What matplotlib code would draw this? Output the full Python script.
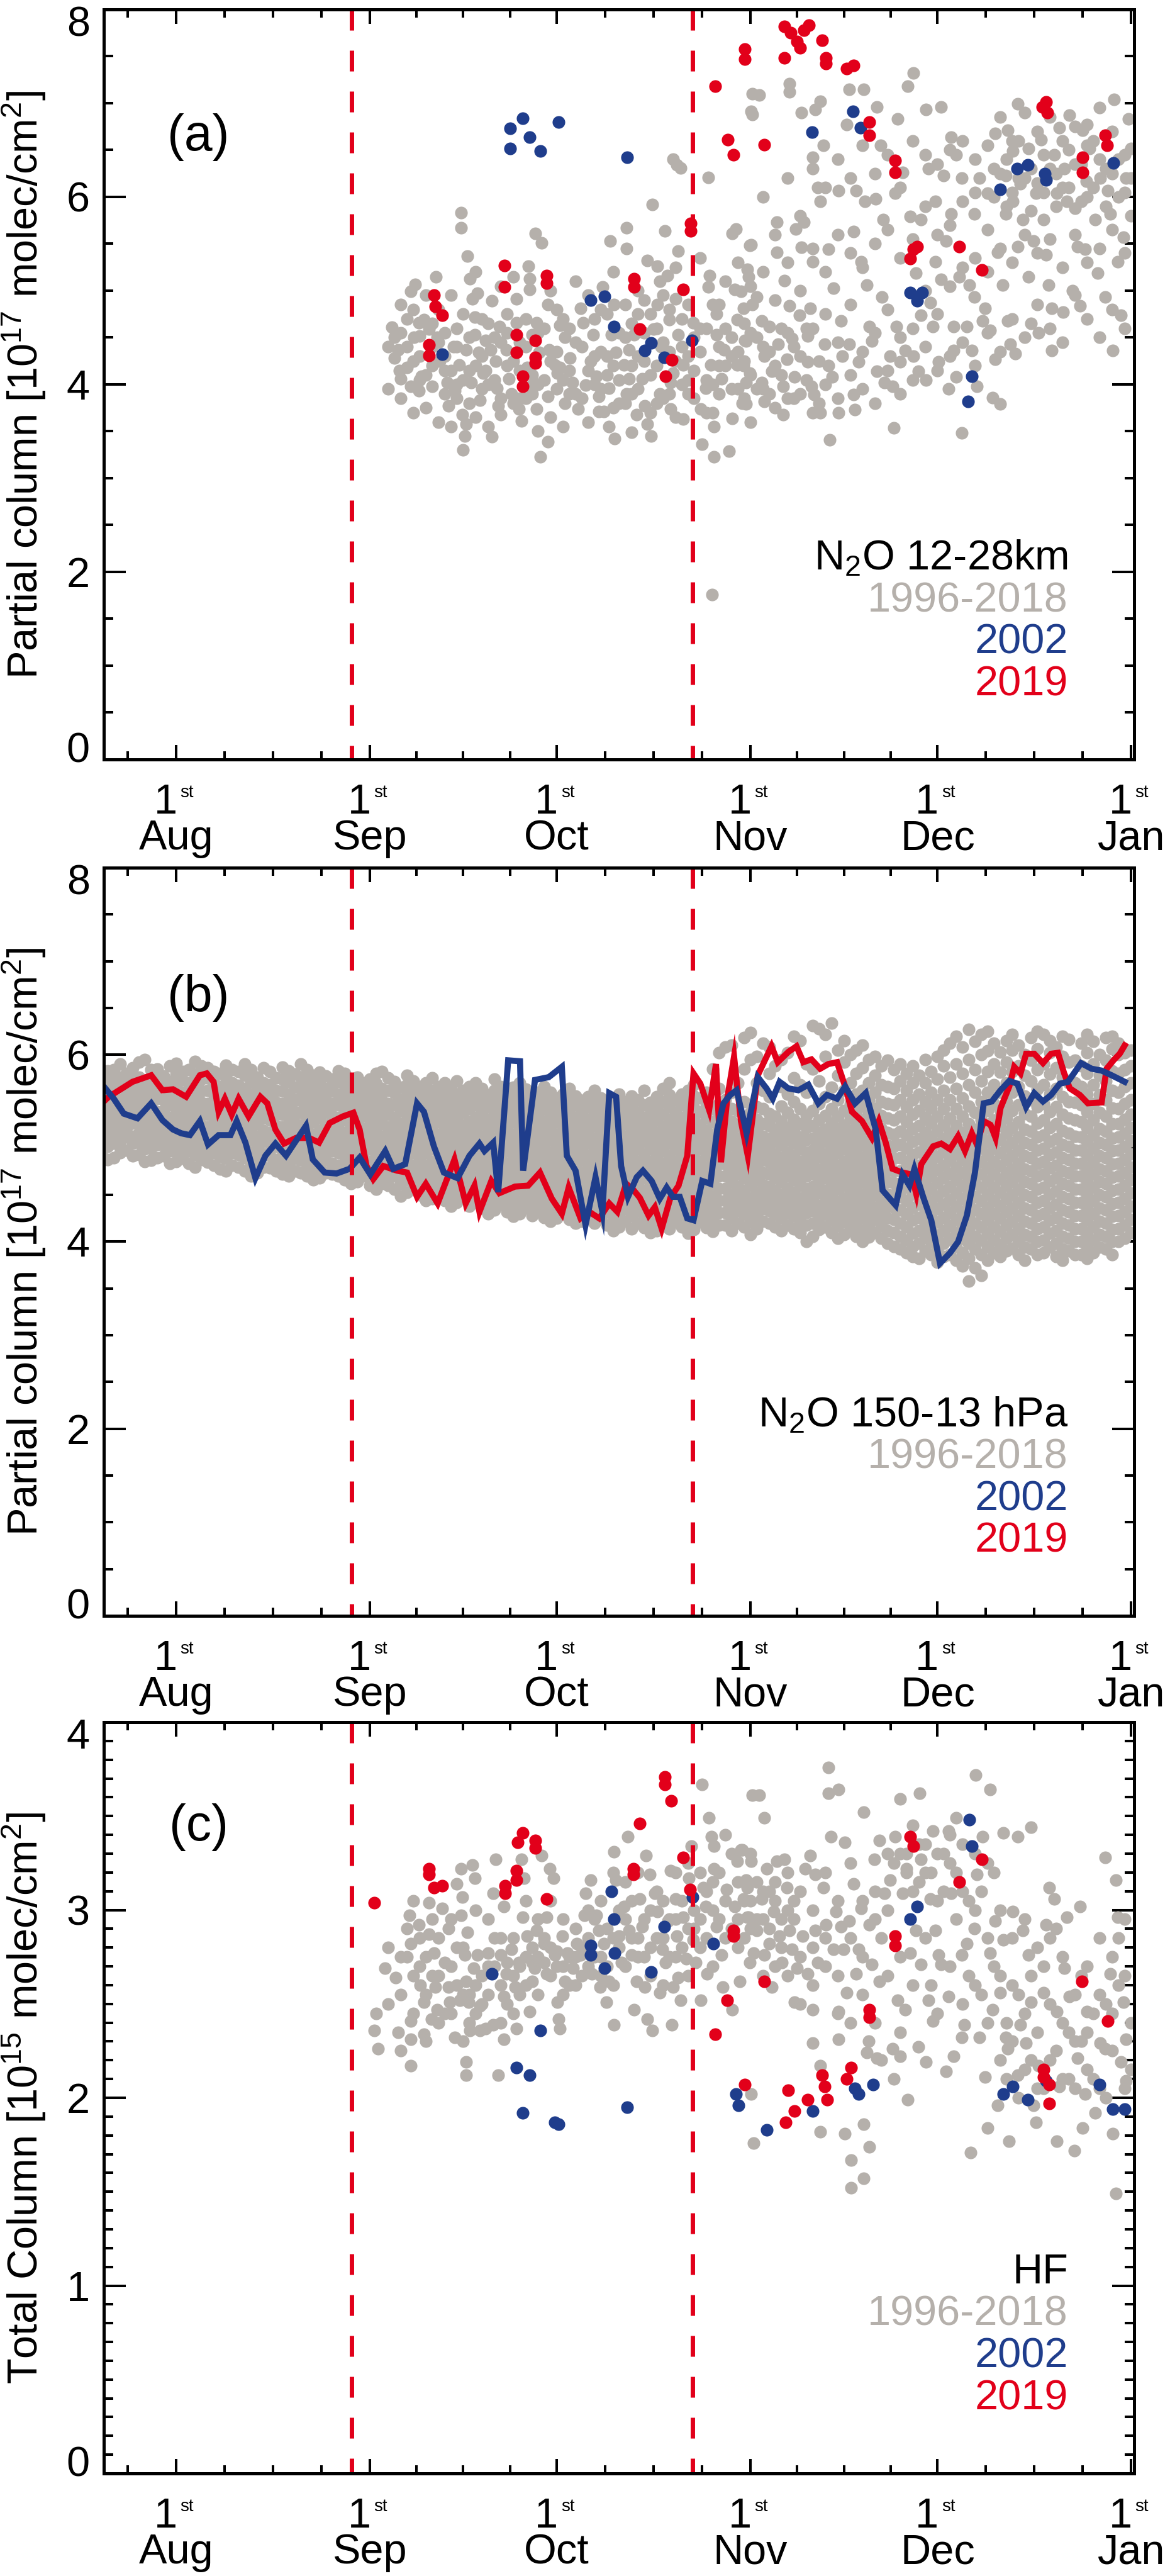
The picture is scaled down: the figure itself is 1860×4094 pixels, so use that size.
import matplotlib
matplotlib.use('Agg')
import matplotlib.pyplot as plt
import matplotlib.transforms as mtransforms
from matplotlib.ticker import FixedLocator, MultipleLocator

plt.rcParams['font.family'] = ['Liberation Sans', 'DejaVu Sans']
plt.rcParams['mathtext.fontset'] = 'custom'
plt.rcParams['mathtext.rm'] = 'Liberation Sans'
plt.rcParams['mathtext.it'] = 'Liberation Sans:italic'
plt.rcParams['mathtext.bf'] = 'Liberation Sans:bold'
plt.rcParams['lines.scale_dashes'] = False

# ---------------- axis definitions (x = days since 1 August) ----------------
month_ticks = [0, 31, 61, 92, 122, 153]
month_names = ['Aug', 'Sep', 'Oct', 'Nov', 'Dec', 'Jan']
minor_ticks = [-7.75, 7.75, 15.5, 23.25, 38.5, 46, 53.5, 68.75, 76.5, 84.25,
               99.5, 107, 114.5, 129.75, 137.5, 145.25]
vortex_lines = [28.1, 82.7]
XMIN, XMAX = -11.6, 153.5

GREY = '#b5b0ab'
BLUE = '#1f3d8c'
RED = '#e2001a'

# ---------------- panel (a): N2O 12-28 km ----------------
grey_a = [(34.6,4.61),(35.6,4.37),(35.8,4.15),(36.0,4.06),(37.6,4.99),(38.3,5.07),(37.6,3.98),(38.9,3.93),
(39.3,4.09),(38.1,4.50),(38.9,4.66),(39.7,4.69),(40.5,4.59),(41.6,5.15),(41.8,4.50),(42.2,4.25),(43.0,4.15),
(43.4,4.02),(43.6,3.77),(44.4,4.40),(44.6,3.93),(45.0,3.85),(45.4,4.21),(45.7,5.83),(45.7,5.67),(45.9,3.68),
(46.5,3.58),(46.7,5.37),(46.3,3.45),(47.1,5.13),(47.5,4.91),(46.5,4.37),(47.3,4.02),(48.3,4.97),(47.9,4.72),
(47.9,4.53),(48.5,4.34),(49.2,4.12),(48.7,3.83),(49.6,4.47),(50.6,4.89),(50.6,3.44),(51.2,4.25),(51.4,3.96),
(51.6,3.77),(52.0,3.68),(51.8,4.62),(50.4,4.37),(49.6,4.15),(52.9,4.37),(53.3,4.06),(53.7,3.90),(54.5,4.91),
(54.5,4.66),(54.9,3.74),(55.3,3.61),(56.4,5.26),(56.6,5.13),(56.6,5.01),(57.0,4.53),(57.0,3.99),(57.8,3.74),
(57.6,5.61),(58.6,5.51),(57.8,4.66),(58.2,4.34),(56.2,4.18),(59.6,4.85),(59.6,3.87),(59.6,3.39),(58.4,3.23),
(59.8,4.37),(60.7,4.21),(61.5,4.63),(61.1,4.12),(62.3,3.80),(62.3,4.50),(63.1,4.28),(63.5,4.02),(64.4,3.74),
(61.5,4.18),(64.8,4.81),(65.2,4.66),(65.6,3.99),(66.4,4.25),(66.8,4.53),(67.3,4.09),(67.7,3.87),(68.3,5.04),
(68.5,3.71),(69.3,3.96),(69.5,5.53),(69.3,3.55),(70.1,4.85),(70.5,4.34),(69.7,4.53),(70.3,3.42),(67.7,3.71),
(72.2,5.67),(72.2,5.45),(71.8,4.21),(72.2,3.90),(72.6,4.37),(73.0,3.49),(73.4,4.53),(73.8,3.68),(74.0,4.75),
(74.7,4.06),(75.1,3.77),(75.5,5.32),(76.1,3.45),(76.3,5.92),(75.5,3.58),(72.6,4.06),(76.5,4.59),(77.1,5.26),
(77.1,4.85),(77.5,3.90),(77.5,5.10),(77.7,4.40),(78.3,5.64),(78.7,5.16),(79.0,4.69),(79.2,3.74),(79.6,4.12),
(79.6,6.40),(80.2,6.34),(80.4,5.42),(80.8,6.31),(80.4,4.53),(81.2,3.63),(81.2,4.21),(80.0,4.91),(79.2,4.02),
(82.0,4.85),(82.9,4.66),(84.1,3.74),(84.3,3.36),(84.9,3.96),(85.3,6.21),(85.3,5.04),(85.5,5.16),(85.7,4.21),
(86.2,3.55),(86.2,3.23),(86.6,4.53),(87.0,3.90),(87.4,4.06),(87.8,4.37),(88.6,3.29),(89.1,5.61),(89.5,5.01),
(89.9,4.69),(89.9,4.21),(90.7,3.80),(91.1,4.47),(91.5,5.23),(91.9,5.48),(91.9,4.12),(92.1,6.91),(92.3,4.85),
(92.3,7.10),(89.1,3.64),(86.6,4.75),(85.9,1.76),
(92.3,6.88),(93.4,7.09),(89.7,5.66),(90.5,4.99),(91.7,5.15),(92.1,5.49),(90.9,4.81),(91.3,4.46),(90.9,4.20),
(91.3,4.02),(91.3,3.79),(93.0,4.93),(93.8,4.68),(94.2,4.30),(93.8,4.02),(94.2,3.82),(95.0,4.62),(95.4,4.14),
(96.3,5.73),(96.3,5.41),(96.5,4.43),(97.3,3.68),(97.3,3.98),(97.5,5.11),(97.9,4.27),(98.3,7.21),(98.3,7.12),
(98.3,4.84),(98.7,4.49),(99.1,4.08),(99.3,5.66),(99.9,4.74),(100.2,6.90),(100.2,5.46),(100.6,5.73),(101.2,4.52),
(101.2,4.24),(101.6,4.81),(101.8,3.98),(102.0,6.42),(102.0,5.31),(102.4,6.93),(102.2,3.89),(102.8,6.10),
(103.2,7.02),(103.2,5.95),(103.2,3.70),(103.7,6.55),(103.9,4.43),(104.5,5.44),(104.5,4.20),(104.7,3.41),
(105.1,4.08),(105.3,5.03),(106.1,6.07),(106.1,3.70),(106.5,4.68),(106.7,4.30),(107.4,6.77),(107.8,7.15),
(107.8,4.43),(108.6,5.63),(108.6,3.89),(108.8,3.73),(109.0,6.07),(109.4,4.24),(109.8,5.31),(110.2,7.15),
(110.4,5.95),(110.7,5.06),(111.1,4.62),(111.5,4.46),(112.1,5.98),(112.3,6.96),(112.3,4.14),(112.9,6.55),
(113.1,4.93),(113.3,5.76),(113.5,4.02),(114.4,4.30),(114.8,3.98),(115.0,3.54),(115.2,6.04),(115.4,4.62),
(115.6,6.83),(116.0,4.24),(116.4,6.26),(116.8,4.36),(117.2,7.18),(117.6,5.79),(118.1,7.32),(118.1,4.30),
(118.5,5.19),(118.9,4.14),(119.3,5.76),(119.3,4.74),(120.1,6.93),(120.1,4.05),(120.5,6.30),(120.9,4.87),
(121.3,4.62),(121.7,5.95),(121.7,5.31),(122.2,4.24),(122.6,6.96),(122.6,5.12),(123.0,6.23),(123.4,5.53),
(123.8,3.95),(124.2,6.64),(124.2,5.82),(124.6,4.62),(124.6,4.36),(125.0,6.45),(125.0,4.08),(125.5,5.15),
(125.9,3.48),(125.9,6.20),(126.7,4.62),(127.1,5.06),(127.5,4.36),(127.9,5.82),(127.9,4.93),(128.3,3.98),
(128.7,6.20),(129.2,4.68),(129.6,4.81),(130.0,6.04),(130.4,4.58),(130.8,3.86),(131.2,6.68),(131.2,4.27),
(131.6,5.41),(132.0,3.79),(132.4,5.06),(132.9,6.23),(132.9,5.82),(133.3,6.71),(133.3,4.68),(133.7,4.43),
(134.1,6.49),(134.1,5.95),(134.5,4.33),(134.9,6.99),(134.9,5.47),(135.3,6.14),(135.7,5.76),(136.6,6.52),
(136.6,5.15),(137.0,4.65),(137.4,5.53),(137.8,6.04),(138.2,4.55),(138.6,6.61),(139.0,5.76),(139.4,5.38),
(139.8,5.06),(140.3,4.81),(140.3,4.36),(140.7,6.45),(141.1,6.04),(141.5,6.74),(142.1,4.77),(142.3,6.30),
(142.7,5.95),(143.1,6.87),(143.6,5.00),(144.0,5.88),(144.4,5.47),(144.8,4.84),(145.2,6.71),(145.6,5.44),
(145.8,6.17),(146.0,6.77),(146.4,6.52),(147.3,5.76),(147.7,5.19),(148.1,6.20),(148.9,4.93),(149.3,6.07),
(149.7,5.82),(150.1,4.36),(150.3,7.04),(150.9,5.31),(151.4,4.74),(151.8,5.57),(152.2,6.20),(152.6,6.83),
(153.0,6.52)]
grey_a_core_days = [35, 37, 39, 41, 43, 45, 47, 49, 51, 53, 55, 57, 59, 61, 63, 65, 67, 69, 71, 73,
                    75, 77, 79, 81, 83, 85, 87, 89, 91, 93, 95, 97, 99, 101, 103,
                    131, 133, 135, 137, 139, 141, 143, 145, 147, 149, 151, 153]
grey_a_core_vals = [[4.28,4.50],[4.18,4.40,4.70],[4.05,4.30,4.52],[3.98,4.20,4.40,4.65],[3.90,4.30,4.55],
    [4.00,4.40,4.60],[3.80,4.15,4.50],[3.95,4.30,4.70],[4.05,4.50],[4.20,4.55,4.75],[3.85,4.15,4.45],
    [3.90,4.10],[4.05,4.60],[3.95,4.35,4.80],[3.90,4.15,4.60],[3.85,4.40],[4.00,4.30,4.70],
    [4.10,4.30,4.75],[3.80,4.05,4.55],[3.90,4.20,4.65],[4.25,4.55,4.90],[3.80,4.20,4.60],
    [3.90,4.35,4.80],[4.00,4.40,4.70],[3.85,4.15,4.50],[3.70,4.05,4.60],[4.20,4.40,4.85],
    [3.95,4.30,4.50],[3.85,4.25,4.65],[3.95,4.50],[3.90,4.35],[4.10,4.60],[3.85,4.40],[4.05,4.60],
    [3.80,4.25],
    [6.00,6.30],[5.90,6.40],[6.20,6.60],[5.85,6.30],[6.05,6.45],[5.90,6.25],[6.10,6.50],[5.95,6.35],
    [6.10,6.60],[5.90,6.30],[6.00,6.40],[5.80,6.20]]
grey_a_extra_days = [34, 36, 38, 40, 42, 44, 46, 48, 50, 52, 54, 56, 58, 60, 62, 64, 66, 68, 70, 72, 74,
                     76, 78, 80, 82, 84, 86, 88, 90, 92, 94, 96, 98, 100, 102, 104, 106, 108, 110, 112,
                     114, 116, 118, 120, 122, 124, 126, 128, 130, 132, 134, 136, 138, 140, 142, 144, 146,
                     148, 150, 152]
grey_a_extra_vals = [[4.40,3.95],[4.55,3.85,4.85],[4.25,3.70,4.80],[4.10,3.75,4.95],[4.45,3.60,4.80],
    [4.15,3.55,4.95],[4.05,4.75,3.30],[4.20,3.65,5.20],[4.00,4.65,3.55],[4.45,3.85,5.05],[4.25,3.80,5.15],
    [4.40,3.85,4.70],[4.00,4.55,3.50],[4.25,3.65,5.00],[4.05,4.70,3.55],[4.45,3.90,5.10],[4.15,3.60,4.95],
    [4.35,3.95,4.80],[4.20,3.75,5.20],[4.50,3.80,4.85],[4.30,3.95,5.00],[4.10,3.70,4.75],[4.45,3.85,4.95],
    [4.25,3.65,5.25],[4.05,4.30,3.90],[4.35,4.60,5.35],[4.00,4.85,3.70],[4.20,4.60,5.10],[4.35,3.95,5.30],
    [4.10,4.55,5.05,3.60],[4.40,3.95,5.20,6.00],[4.20,3.75,4.90,5.60],[4.55,3.85,5.30,6.20],
    [4.30,3.90,5.00,5.80],[4.60,3.70,5.45,6.30],[4.00,4.75,5.20,6.10],[4.45,3.85,5.60,6.40],
    [4.10,4.85,5.40,6.20],[4.35,3.95,5.25,6.55],[4.55,3.80,5.50,6.25],[4.15,4.80,5.65,6.45],
    [4.50,3.90,5.35,6.10],[4.05,4.60,5.55,6.60],[4.40,5.00,5.90,6.45],[4.15,4.75,5.60,6.35],
    [4.30,5.05,5.70,6.50],[4.45,5.25,5.95,6.60],[4.20,5.35,6.05,6.40],[4.55,5.20,5.65,6.55],
    [4.35,5.45,6.25,6.85],[4.70,5.30,6.05,6.60],[4.50,5.60,6.20,6.90],[4.85,5.40,6.15,6.70],
    [4.60,5.55,6.30,6.85],[4.45,5.25,6.10,6.60],[4.95,5.60,6.35,6.75],[4.70,5.30,6.00,6.55],
    [4.50,5.45,6.40,6.95],[4.80,5.65,6.25,6.70],[4.60,5.40,6.05,6.45]]
blue_a = [(53.5,6.73),(55.5,6.84),(56.6,6.64),(53.5,6.52),(58.4,6.49),(61.3,6.80),(72.3,6.42),(66.4,4.90),
(68.6,4.94),(70.1,4.62),(76.1,4.44),(75.1,4.36),(78.2,4.29),(82.6,4.47),(42.6,4.32),(108.5,6.91),(101.9,6.69),
(109.7,6.74),(132.0,6.08),(134.8,6.30),(136.5,6.34),(139.2,6.25),(139.4,6.18),(150.2,6.36),(117.6,4.98),
(119.5,4.98),(118.7,4.89),(127.5,4.09),(126.9,3.82)]
red_a = [(41.3,4.95),(41.5,4.83),(42.6,4.74),(40.5,4.42),(40.5,4.31),(52.6,5.27),(52.6,5.04),(59.4,5.16),
(59.4,5.08),(54.5,4.53),(54.5,4.34),(55.5,4.09),(55.5,3.98),(57.5,4.47),(57.5,4.29),(57.5,4.23),(73.4,5.13),
(73.4,5.04),(74.3,4.59),(81.2,5.01),(79.4,4.26),(78.4,4.09),(82.4,5.64),(82.4,5.72),(86.4,7.18),(88.4,6.61),
(89.3,6.45),(91.1,7.58),(91.1,7.47),(94.2,6.56),(97.5,7.48),(97.5,7.82),(98.5,7.75),(99.5,7.66),(100.6,7.78),
(101.4,7.83),(100.0,7.59),(103.5,7.67),(104.1,7.48),(104.1,7.42),(107.4,7.37),(108.6,7.40),(111.1,6.80),
(111.1,6.66),(115.2,6.39),(115.2,6.26),(117.6,5.34),(118.1,5.44),(118.7,5.47),(125.5,5.47),(129.1,5.22),
(138.8,6.96),(139.4,7.01),(139.6,6.90),(145.2,6.42),(145.2,6.26),(148.9,6.66),(149.2,6.55)]

# ---------------- panel (b): N2O 150-13 hPa ----------------
grey_b_days = [-11, -9, -7, -5, -3, -1, 1, 3, 5, 7, 9, 11, 13, 15, 17, 19, 21, 23, 25, 27, 29, 31, 33, 35,
               37, 39, 41, 43, 45, 47, 49, 51, 53, 55, 57, 59, 61, 63, 65, 67, 69, 71, 73, 75, 77, 79, 81,
               83, 85, 87, 89, 91, 93, 95, 97, 99, 101, 103, 105, 107, 109, 111, 113, 115, 117, 119, 121,
               123, 125, 127, 129, 131, 133, 135, 137, 139, 141, 143, 145, 147, 149, 151, 153]
grey_b_vals = [
 [4.88,5.02,5.15,5.24,5.36,5.47,5.58,5.70,5.83],
 [4.95,5.08,5.19,5.31,5.40,5.52,5.66,5.76,5.90],
 [4.92,5.05,5.13,5.27,5.38,5.50,5.61,5.74,5.86],
 [4.86,4.99,5.10,5.22,5.35,5.44,5.57,5.69,5.95],
 [4.90,5.04,5.16,5.28,5.39,5.53,5.64,5.77,5.85],
 [4.84,4.97,5.09,5.21,5.33,5.46,5.58,5.71,5.88],
 [4.89,5.01,5.14,5.25,5.37,5.49,5.60,5.73,5.82],
 [4.80,4.93,5.06,5.19,5.31,5.42,5.55,5.68,5.79,5.93],
 [4.85,4.98,5.11,5.23,5.36,5.48,5.62,5.75,5.86],
 [4.78,4.91,5.04,5.17,5.29,5.41,5.54,5.66,5.80],
 [4.82,4.95,5.08,5.20,5.32,5.45,5.57,5.70,5.84],
 [4.76,4.90,5.02,5.15,5.27,5.40,5.52,5.64,5.78,5.90],
 [4.74,4.88,5.00,5.13,5.26,5.38,5.50,5.63,5.76],
 [4.79,4.92,5.05,5.17,5.30,5.42,5.55,5.68,5.82],
 [4.72,4.85,4.98,5.10,5.23,5.36,5.48,5.61,5.74,5.87],
 [4.76,4.89,5.01,5.14,5.27,5.39,5.52,5.65,5.79],
 [4.70,4.83,4.96,5.09,5.21,5.34,5.47,5.60,5.72,5.84],
 [4.68,4.81,4.94,5.06,5.19,5.32,5.44,5.57,5.70,5.81],
 [4.72,4.84,4.97,5.10,5.22,5.35,5.48,5.61,5.74],
 [4.66,4.79,4.92,5.04,5.17,5.30,5.42,5.55,5.68,5.80],
 [4.64,4.77,4.90,5.02,5.15,5.28,5.41,5.53,5.66,5.76],
 [4.60,4.73,4.86,4.99,5.12,5.24,5.37,5.50,5.62,5.74],
 [4.62,4.75,4.88,5.00,5.13,5.26,5.38,5.51,5.64,5.82],
 [4.56,4.70,4.83,4.95,5.08,5.21,5.33,5.46,5.59,5.71],
 [4.53,4.66,4.79,4.92,5.05,5.18,5.30,5.43,5.56,5.68,5.78],
 [4.50,4.63,4.76,4.89,5.02,5.14,5.27,5.40,5.53,5.66],
 [4.46,4.60,4.73,4.86,4.99,5.11,5.24,5.37,5.50,5.62,5.75],
 [4.44,4.57,4.70,4.83,4.96,5.09,5.21,5.34,5.47,5.60,5.70],
 [4.42,4.55,4.68,4.81,4.94,5.06,5.19,5.32,5.45,5.58,5.72],
 [4.38,4.52,4.65,4.78,4.90,5.03,5.16,5.29,5.42,5.55,5.66],
 [4.36,4.49,4.62,4.75,4.88,5.01,5.13,5.26,5.39,5.52,5.64],
 [4.34,4.47,4.60,4.73,4.86,4.98,5.11,5.24,5.37,5.50,5.62,5.74],
 [4.32,4.45,4.58,4.71,4.84,4.97,5.09,5.22,5.35,5.48,5.61],
 [4.30,4.43,4.56,4.69,4.82,4.95,5.08,5.20,5.33,5.46,5.59,5.70],
 [4.28,4.41,4.54,4.67,4.80,4.93,5.05,5.18,5.31,5.44,5.57],
 [4.26,4.39,4.52,4.65,4.78,4.91,5.04,5.16,5.29,5.42,5.55,5.66],
 [4.25,4.38,4.51,4.64,4.77,4.90,5.02,5.15,5.28,5.41,5.54],
 [4.24,4.37,4.50,4.63,4.76,4.88,5.01,5.14,5.27,5.40,5.52,5.64],
 [4.22,4.35,4.48,4.61,4.74,4.87,5.00,5.12,5.25,5.38,5.51],
 [4.20,4.34,4.47,4.60,4.73,4.86,4.98,5.11,5.24,5.37,5.50,5.62],
 [4.18,4.32,4.45,4.58,4.71,4.84,4.97,5.10,5.22,5.35,5.48],
 [4.16,4.30,4.43,4.56,4.69,4.82,4.95,5.08,5.21,5.34,5.46,5.58],
 [4.14,4.28,4.41,4.54,4.67,4.80,4.93,5.06,5.19,5.32,5.45,5.56],
 [4.15,4.28,4.42,4.55,4.68,4.81,4.94,5.07,5.20,5.33,5.46,5.62],
 [4.12,4.26,4.39,4.52,4.65,4.78,4.91,5.04,5.17,5.30,5.43,5.55],
 [4.14,4.27,4.40,4.53,4.66,4.79,4.92,5.05,5.18,5.31,5.44,5.57,5.70],
 [4.16,4.29,4.42,4.55,4.68,4.81,4.94,5.07,5.20,5.33,5.46,5.58],
 [4.13,4.26,4.39,4.52,4.65,4.78,4.91,5.04,5.17,5.30,5.43,5.56,5.68],
 [4.15,4.28,4.41,4.54,4.67,4.80,4.93,5.06,5.19,5.32,5.45,5.60],
 [4.18,4.31,4.44,4.57,4.70,4.83,4.96,5.09,5.22,5.35,5.48,5.64,6.02],
 [4.12,4.25,4.38,4.51,4.64,4.77,4.90,5.03,5.16,5.29,5.42,5.60,6.10],
 [4.16,4.29,4.42,4.55,4.68,4.81,4.94,5.07,5.20,5.33,5.50,5.85,6.18],
 [4.14,4.27,4.40,4.53,4.66,4.79,4.92,5.05,5.18,5.31,5.44,5.70,5.98],
 [4.20,4.33,4.46,4.59,4.72,4.85,4.98,5.11,5.24,5.37,5.55,5.80,6.08],
 [4.12,4.25,4.38,4.51,4.64,4.77,4.90,5.03,5.16,5.29,5.45,5.66,5.95],
 [4.14,4.27,4.40,4.53,4.66,4.79,4.92,5.05,5.18,5.31,5.50,5.75,6.20],
 [4.00,4.18,4.31,4.44,4.57,4.70,4.83,4.96,5.09,5.22,5.35,5.60,5.90],
 [4.13,4.26,4.39,4.52,4.65,4.78,4.91,5.04,5.17,5.30,5.48,5.72,6.28],
 [4.10,4.23,4.36,4.49,4.62,4.75,4.88,5.01,5.14,5.27,5.42,5.65,6.34],
 [4.08,4.21,4.34,4.47,4.60,4.73,4.86,4.99,5.12,5.25,5.40,5.62,5.92,6.15],
 [4.06,4.19,4.32,4.45,4.58,4.71,4.84,4.97,5.10,5.23,5.38,5.58,5.80,6.05],
 [4.05,4.18,4.31,4.44,4.57,4.70,4.83,4.96,5.09,5.22,5.36,5.52,5.70,5.95],
 [4.04,4.17,4.30,4.43,4.56,4.69,4.82,4.95,5.08,5.21,5.35,5.50,5.68,5.88],
 [3.95,4.10,4.24,4.37,4.50,4.63,4.76,4.89,5.02,5.15,5.30,5.46,5.64,5.84],
 [3.88,4.02,4.16,4.30,4.44,4.58,4.72,4.86,5.00,5.14,5.28,5.44,5.62,5.80],
 [3.82,3.98,4.12,4.26,4.40,4.54,4.68,4.82,4.96,5.10,5.24,5.40,5.58,5.78],
 [3.86,4.00,4.14,4.28,4.42,4.56,4.70,4.84,4.98,5.12,5.27,5.43,5.60,5.82],
 [3.84,3.98,4.12,4.26,4.40,4.54,4.68,4.82,4.96,5.10,5.25,5.42,5.62,5.88,6.05],
 [3.80,3.95,4.10,4.24,4.38,4.52,4.66,4.80,4.94,5.08,5.24,5.42,5.64,5.90,6.20],
 [3.58,3.82,3.98,4.12,4.26,4.40,4.54,4.68,4.82,4.96,5.10,5.26,5.45,5.68,5.95,6.27],
 [3.64,3.86,4.02,4.16,4.30,4.44,4.58,4.72,4.86,5.00,5.14,5.30,5.50,5.72,6.00,6.22],
 [3.88,4.02,4.16,4.30,4.44,4.58,4.72,4.86,5.00,5.14,5.30,5.48,5.68,5.90,6.12],
 [3.90,4.04,4.18,4.32,4.46,4.60,4.74,4.88,5.02,5.16,5.32,5.50,5.70,5.92,6.15],
 [3.86,4.00,4.14,4.28,4.42,4.56,4.70,4.84,4.98,5.12,5.28,5.46,5.66,5.88,6.10],
 [3.92,4.06,4.20,4.34,4.48,4.62,4.76,4.90,5.04,5.18,5.34,5.52,5.72,5.94,6.18],
 [3.88,4.02,4.16,4.30,4.44,4.58,4.72,4.86,5.00,5.14,5.30,5.48,5.68,5.90,6.22],
 [3.84,3.98,4.12,4.26,4.40,4.54,4.68,4.82,4.96,5.10,5.26,5.44,5.64,5.86,6.08],
 [3.90,4.04,4.18,4.32,4.46,4.60,4.74,4.88,5.02,5.16,5.32,5.50,5.70,5.92,6.16],
 [3.86,4.00,4.14,4.28,4.42,4.56,4.70,4.84,4.98,5.12,5.28,5.46,5.66,5.88,6.12],
 [3.88,4.02,4.16,4.30,4.44,4.58,4.72,4.86,5.00,5.14,5.30,5.48,5.68,5.90,6.14],
 [3.92,4.06,4.20,4.34,4.48,4.62,4.76,4.90,5.04,5.18,5.34,5.52,5.72,5.94,6.18],
 [4.00,4.14,4.28,4.42,4.56,4.70,4.84,4.98,5.12,5.26,5.42,5.60,5.80,6.00,6.12],
 [4.10,4.24,4.38,4.52,4.66,4.80,4.94,5.08,5.22,5.36,5.52,5.70,5.88,6.05]]
grey_b2_days = [-12, -10, -8, -6, -4, -2, 0, 2, 4, 6, 8, 10, 12, 14, 16, 18, 20, 22, 24, 26, 28, 30, 32,
                34, 36, 38, 40, 42, 44, 46, 48, 50, 52, 54, 56, 58, 60, 62, 64, 66, 68, 70, 72, 74, 76, 78,
                80, 82, 84, 86, 88, 90, 92, 94, 96, 98, 100, 102, 104, 106, 108, 110, 112, 114, 116, 118,
                120, 122, 124, 126, 128, 130, 132, 134, 136, 138, 140, 142, 144, 146, 148, 150, 152]
grey_b2_vals = [
 [4.93,5.08,5.20,5.31,5.42,5.53,5.64,5.77],
 [4.90,5.05,5.14,5.26,5.36,5.48,5.60,5.72,5.84],
 [4.98,5.12,5.22,5.34,5.45,5.57,5.69,5.80],
 [4.93,5.06,5.16,5.29,5.41,5.52,5.63,5.76,5.92],
 [4.87,5.00,5.12,5.24,5.34,5.47,5.59,5.72,5.84],
 [4.92,5.03,5.15,5.27,5.40,5.52,5.65,5.77],
 [4.86,4.96,5.08,5.20,5.31,5.43,5.55,5.67,5.79,5.91],
 [4.84,4.97,5.10,5.22,5.33,5.45,5.58,5.70,5.84],
 [4.88,5.00,5.13,5.25,5.37,5.49,5.61,5.74,5.88],
 [4.82,4.95,5.08,5.21,5.33,5.45,5.58,5.70,5.82],
 [4.76,4.89,5.01,5.14,5.26,5.39,5.51,5.63,5.76,5.89],
 [4.80,4.93,5.06,5.18,5.30,5.43,5.55,5.67,5.82],
 [4.70,4.83,4.96,5.09,5.21,5.33,5.46,5.58,5.71,5.84],
 [4.80,4.94,5.07,5.19,5.32,5.44,5.57,5.70,5.86],
 [4.76,4.88,5.02,5.12,5.24,5.36,5.49,5.62,5.75],
 [4.70,4.82,4.94,5.07,5.20,5.33,5.45,5.58,5.71,5.83],
 [4.74,4.87,5.00,5.13,5.25,5.38,5.51,5.63,5.76,5.90],
 [4.66,4.76,4.89,5.02,5.15,5.28,5.40,5.53,5.66,5.78],
 [4.74,4.87,5.00,5.13,5.25,5.38,5.51,5.64,5.77],
 [4.70,4.82,4.95,5.07,5.20,5.33,5.46,5.58,5.71,5.83],
 [4.62,4.72,4.85,4.98,5.10,5.23,5.36,5.48,5.61,5.73],
 [4.70,4.83,4.96,5.09,5.21,5.34,5.47,5.60,5.70],
 [4.56,4.68,4.80,4.93,5.06,5.18,5.31,5.44,5.57,5.69,5.80],
 [4.60,4.72,4.85,4.97,5.10,5.23,5.36,5.48,5.62,5.75],
 [4.49,4.62,4.75,4.89,5.01,5.14,5.27,5.40,5.52,5.65],
 [4.58,4.70,4.82,4.95,5.08,5.21,5.34,5.47,5.60,5.72],
 [4.44,4.56,4.69,4.82,4.95,5.08,5.20,5.33,5.46,5.59,5.70],
 [4.52,4.64,4.77,4.90,5.03,5.15,5.28,5.41,5.54,5.66],
 [4.38,4.50,4.63,4.76,4.89,5.02,5.15,5.27,5.40,5.53,5.66],
 [4.48,4.61,4.74,4.87,5.00,5.12,5.25,5.38,5.51,5.62],
 [4.42,4.55,4.68,4.82,4.95,5.07,5.20,5.33,5.46,5.58,5.70],
 [4.30,4.42,4.55,4.68,4.81,4.94,5.06,5.19,5.31,5.44,5.57],
 [4.40,4.53,4.66,4.79,4.92,5.04,5.17,5.30,5.43,5.55,5.66],
 [4.27,4.38,4.51,4.64,4.77,4.90,5.02,5.15,5.28,5.40,5.53,5.65],
 [4.36,4.49,4.62,4.75,4.88,5.00,5.13,5.26,5.39,5.52,5.63],
 [4.33,4.46,4.59,4.72,4.85,4.98,5.10,5.23,5.36,5.49,5.60],
 [4.22,4.32,4.45,4.58,4.71,4.84,4.96,5.09,5.22,5.35,5.48,5.60],
 [4.30,4.43,4.56,4.69,4.82,4.95,5.08,5.20,5.33,5.46,5.58],
 [4.20,4.30,4.43,4.56,4.69,4.82,4.94,5.07,5.20,5.33,5.46,5.56],
 [4.28,4.41,4.54,4.67,4.80,4.92,5.05,5.18,5.31,5.44,5.55],
 [4.25,4.38,4.51,4.64,4.77,4.90,5.03,5.16,5.29,5.42,5.54],
 [4.12,4.24,4.36,4.49,4.62,4.75,4.88,5.01,5.14,5.27,5.40,5.52],
 [4.22,4.35,4.48,4.61,4.74,4.87,5.00,5.13,5.26,5.38,5.50],
 [4.20,4.33,4.46,4.60,4.73,4.86,4.99,5.12,5.25,5.38,5.52],
 [4.10,4.21,4.34,4.47,4.60,4.73,4.86,4.99,5.12,5.25,5.37,5.49],
 [4.19,4.32,4.45,4.58,4.71,4.84,4.97,5.10,5.23,5.36,5.50,5.64],
 [4.21,4.34,4.47,4.60,4.73,4.86,4.99,5.12,5.25,5.38,5.52],
 [4.09,4.20,4.32,4.45,4.58,4.71,4.84,4.97,5.10,5.23,5.36,5.50,5.62],
 [4.21,4.34,4.47,4.60,4.73,4.86,4.99,5.12,5.25,5.39,5.54],
 [4.11,4.23,4.36,4.49,4.62,4.75,4.88,5.01,5.14,5.28,5.42,5.85],
 [4.18,4.31,4.44,4.57,4.70,4.83,4.96,5.09,5.22,5.36,5.52,6.08],
 [4.20,4.33,4.46,4.59,4.72,4.85,4.98,5.11,5.24,5.40,5.70],
 [4.08,4.21,4.34,4.47,4.60,4.73,4.86,4.99,5.12,5.25,5.38,5.95,6.24],
 [4.22,4.35,4.48,4.61,4.74,4.87,5.00,5.13,5.26,5.42,5.62,6.12],
 [4.16,4.29,4.42,4.55,4.68,4.81,4.94,5.07,5.20,5.34,5.88],
 [4.18,4.31,4.44,4.57,4.70,4.83,4.96,5.09,5.22,5.38,5.58,6.02],
 [4.10,4.21,4.34,4.47,4.60,4.73,4.86,4.99,5.12,5.26,5.42,5.68,6.15],
 [4.06,4.20,4.33,4.46,4.59,4.72,4.85,4.98,5.11,5.24,5.40,5.85,6.31],
 [4.16,4.29,4.42,4.55,4.68,4.81,4.94,5.07,5.20,5.35,5.55,5.98,6.22],
 [4.04,4.17,4.30,4.43,4.56,4.69,4.82,4.95,5.08,5.21,5.34,5.52,5.78,6.05],
 [4.14,4.27,4.40,4.53,4.66,4.79,4.92,5.05,5.18,5.32,5.48,5.70,6.00],
 [4.00,4.12,4.25,4.38,4.51,4.64,4.77,4.90,5.03,5.16,5.30,5.45,5.62,5.86,6.10],
 [4.10,4.24,4.37,4.50,4.63,4.76,4.89,5.02,5.15,5.28,5.42,5.60,5.78,5.98],
 [3.98,4.12,4.25,4.38,4.51,4.64,4.77,4.90,5.03,5.17,5.32,5.48,5.66,5.94],
 [3.92,4.06,4.20,4.34,4.48,4.62,4.76,4.90,5.04,5.18,5.34,5.52,5.72,5.90],
 [3.84,3.95,4.09,4.23,4.37,4.51,4.65,4.79,4.93,5.07,5.21,5.36,5.52,5.70,5.88],
 [3.90,4.05,4.19,4.33,4.47,4.61,4.75,4.89,5.03,5.17,5.33,5.50,5.70,5.95],
 [3.78,3.92,4.07,4.21,4.35,4.49,4.63,4.77,4.91,5.05,5.19,5.34,5.52,5.74,5.98],
 [3.86,4.03,4.17,4.31,4.45,4.59,4.73,4.87,5.01,5.16,5.32,5.52,5.76,6.12],
 [3.74,3.88,4.04,4.18,4.32,4.46,4.60,4.74,4.88,5.02,5.17,5.34,5.54,5.80,6.08],
 [3.72,3.92,4.06,4.20,4.34,4.48,4.62,4.76,4.90,5.04,5.20,5.38,5.60,5.84,6.14],
 [3.80,3.95,4.09,4.23,4.37,4.51,4.65,4.79,4.93,5.07,5.22,5.40,5.60,5.82,6.04,6.25],
 [3.84,3.97,4.11,4.25,4.39,4.53,4.67,4.81,4.95,5.09,5.24,5.41,5.60,5.81,6.03],
 [3.93,4.08,4.22,4.36,4.50,4.64,4.78,4.92,5.06,5.22,5.40,5.60,5.82,6.05,6.22],
 [3.80,3.94,4.08,4.22,4.36,4.50,4.64,4.78,4.92,5.06,5.20,5.37,5.56,5.78,6.00],
 [3.86,4.00,4.14,4.28,4.42,4.56,4.70,4.84,4.98,5.12,5.27,5.44,5.63,5.84,6.06,6.25],
 [3.94,4.09,4.23,4.37,4.51,4.65,4.79,4.93,5.07,5.22,5.39,5.58,5.79,6.02,6.15],
 [3.80,3.92,4.06,4.20,4.34,4.48,4.62,4.76,4.90,5.04,5.19,5.36,5.55,5.76,5.98,6.20],
 [3.86,4.00,4.14,4.28,4.42,4.56,4.70,4.84,4.98,5.13,5.30,5.49,5.70,5.94],
 [3.82,3.95,4.09,4.23,4.37,4.51,4.65,4.79,4.93,5.07,5.22,5.39,5.58,5.80,6.02,6.22],
 [3.94,4.08,4.22,4.36,4.50,4.64,4.78,4.92,5.06,5.21,5.38,5.57,5.78,6.00],
 [3.86,4.00,4.13,4.27,4.41,4.55,4.69,4.83,4.97,5.11,5.26,5.43,5.62,5.83,6.06,6.20],
 [4.04,4.18,4.32,4.46,4.60,4.74,4.88,5.02,5.16,5.31,5.48,5.66,5.84,6.02]]
blue_b = [(-11.6,5.66),(-10.0,5.53),(-8.4,5.37),(-6.2,5.32),(-4.0,5.48),(-2.2,5.30),(-0.5,5.20),(0.8,5.16),
(2.2,5.14),(3.8,5.29),(5.1,5.04),(6.8,5.14),(8.7,5.14),(9.7,5.29),(11.1,5.06),(12.7,4.68),(14.3,4.92),
(15.9,5.05),(17.6,4.92),(19.5,5.11),(20.8,5.24),(21.9,4.88),(23.8,4.74),(25.7,4.73),(27.8,4.78),(29.4,4.90),
(31.1,4.72),(33.5,4.97),(34.8,4.78),(36.7,4.83),(38.6,5.48),(39.7,5.39),(41.3,5.02),(42.9,4.74),(45.1,4.68),
(47.0,4.92),(48.6,5.05),(49.4,4.97),(50.8,5.06),(51.6,4.53),(53.2,5.94),(55.1,5.93),(55.6,4.76),(57.5,5.73),
(59.7,5.76),(61.8,5.87),(62.6,4.92),(64.0,4.76),(65.6,4.18),(67.2,4.69),(68.3,4.32),(69.4,5.59),(70.5,5.55),
(71.3,4.81),(72.4,4.48),(73.8,4.69),(74.8,4.76),(76.2,4.65),(77.5,4.46),(78.6,4.58),(79.6,4.48),(80.7,4.48),
(81.9,4.25),(82.9,4.23),(84.3,4.65),(85.6,4.62),(86.7,5.20),(87.7,5.48),(88.8,5.57),(89.8,5.62),(90.8,5.34),
(91.4,5.16),(93.2,5.76),(94.6,5.64),(95.6,5.53),(96.7,5.71),(98.1,5.64),(99.7,5.62),(101.3,5.68),(102.9,5.48),
(104.3,5.57),(105.9,5.53),(107.2,5.66),(108.8,5.48),(110.5,5.59),(112.1,5.20),(113.2,4.55),(115.3,4.39),
(116.4,4.72),(117.5,4.60),(118.3,4.78),(119.7,4.48),(121.0,4.23),(122.4,3.77),(124.0,3.88),(125.3,4.00),
(126.7,4.28),(128.0,4.74),(129.4,5.48),(130.7,5.50),(132.1,5.62),(133.5,5.72),(134.8,5.69),(136.2,5.44),
(137.5,5.59),(138.9,5.50),(140.2,5.57),(141.6,5.69),(142.9,5.71),(145.0,5.91),(146.7,5.85),(148.3,5.83),
(149.9,5.78),(152.0,5.71)]
red_b = [(-11.6,5.50),(-10.8,5.55),(-7.0,5.71),(-4.0,5.78),(-2.2,5.62),(-0.5,5.63),(1.6,5.55),(3.8,5.78),
(4.9,5.80),(6.0,5.71),(6.8,5.39),(7.8,5.53),(8.9,5.36),(10.0,5.53),(11.6,5.34),(13.5,5.55),(14.6,5.48),
(15.9,5.20),(17.3,5.05),(19.2,5.11),(21.3,5.11),(22.9,5.06),(24.6,5.27),(26.7,5.34),(28.4,5.38),(29.4,5.20),
(30.5,4.81),(31.6,4.67),(33.2,4.81),(35.4,4.76),(37.0,4.74),(38.6,4.48),(40.0,4.62),(41.9,4.41),(44.6,4.88),
(46.4,4.41),(47.8,4.60),(48.6,4.32),(50.5,4.65),(51.8,4.52),(54.3,4.59),(56.4,4.60),(58.3,4.74),(60.2,4.46),
(61.8,4.30),(62.9,4.58),(64.8,4.25),(66.2,4.32),(67.8,4.25),(69.4,4.41),(70.7,4.32),(72.1,4.62),(73.2,4.56),
(74.3,4.47),(75.7,4.28),(76.7,4.37),(77.8,4.14),(79.2,4.47),(80.5,4.60),(81.9,4.92),(82.9,5.80),(84.0,5.69),
(85.4,5.41),(86.5,5.90),(87.3,4.85),(88.3,5.53),(89.4,5.98),(90.5,5.29),(91.6,4.92),(93.2,5.78),(95.4,6.09),
(96.4,5.92),(98.1,6.03),(99.4,6.09),(100.5,5.92),(101.8,5.95),(103.2,5.85),(104.5,5.90),(105.9,5.92),
(107.2,5.66),(108.3,5.39),(109.9,5.29),(111.5,5.11),(112.6,5.29),(113.7,5.06),(114.8,4.78),(116.4,4.74),
(117.8,4.72),(118.6,4.51),(119.4,4.83),(121.3,5.02),(122.6,5.05),(124.0,4.99),(125.3,5.13),(126.4,4.97),
(127.5,5.16),(128.3,5.04),(129.4,5.29),(130.5,5.25),(131.3,5.11),(132.1,5.43),(133.5,5.66),(134.3,5.87),
(135.3,5.80),(136.2,6.01),(137.5,6.01),(138.9,5.91),(140.2,6.01),(141.3,6.02),(142.3,5.80),(143.2,5.64),
(144.8,5.57),(146.1,5.48),(148.3,5.49),(149.1,5.85),(150.2,5.94),(151.2,6.01),(152.0,6.10)]

# ---------------- panel (c): HF total column ----------------
grey_c = [(31.7,2.36),(32.3,2.26),(33.5,2.69),(35.2,2.64),(35.6,2.35),(37.4,2.97),(37.6,2.82),(37.6,2.41),
(37.6,2.31),(37.6,2.17),(38.9,2.92),(39.1,2.60),(39.7,2.51),(39.7,2.34),(40.5,3.04),(40.5,2.87),(40.9,2.42),
(41.3,2.77),(41.5,2.59),(41.8,2.47),(42.6,3.01),(43.6,2.90),(43.6,2.59),(43.8,2.51),(44.6,2.32),(45.0,3.14),
(45.5,2.52),(45.7,3.22),(45.7,2.97),(45.9,3.07),(46.3,2.76),(46.5,2.62),(46.7,2.88),(46.5,2.19),(46.5,2.12),
(46.9,2.51),(47.1,2.36),(47.5,3.24),(47.7,2.69),(47.9,3.17),(48.3,2.76),(48.7,2.49),(48.7,2.36),(49.6,2.37),
(50.0,2.77),(50.8,3.09),(50.8,2.39),(51.2,3.27),(51.6,2.12),(52.0,2.76),(52.5,3.02),(52.5,2.54),(52.5,2.31),
(52.9,2.66),(53.7,2.79),(54.3,2.59),(54.5,2.37),(54.9,2.72),(55.3,3.27),(55.5,2.96),(55.7,3.17),(56.2,2.86),
(56.6,2.46),(57.0,2.72),(57.4,2.69),(57.8,2.89),(58.6,3.29),(59.0,2.82),(59.4,2.96),(59.4,2.66),(59.9,3.22),
(60.5,3.17),(60.7,2.76),(61.1,2.51),(61.3,2.42),(61.5,2.37),(61.9,2.86),(62.3,2.62),(62.7,2.77),(63.6,2.69),
(64.2,2.82),(64.8,2.76),(65.4,2.97),(65.6,3.09),(66.4,3.16),(66.6,2.66),(67.3,2.97),(67.7,2.89),(67.9,2.59),
(68.5,2.82),(68.9,2.51),(69.3,2.62),(70.1,3.31),(70.1,2.39),(70.5,3.16),(71.0,2.86),(71.4,2.72),(71.8,3.02),
(72.4,3.39),(72.6,2.89),(73.0,2.76),(73.4,2.47),(73.8,2.62),(74.3,3.06),(74.7,2.91),(75.1,2.59),(75.3,3.29),
(75.5,2.42),(75.9,3.19),(76.3,2.36),(76.7,3.09),(77.1,2.99),(77.5,2.56),(77.9,2.79),(78.4,2.72),(78.8,2.94),
(79.2,3.21),(79.4,2.39),(79.6,2.59),(80.0,3.06),(80.2,2.86),(80.4,2.64),(80.8,2.52),(81.2,2.96),(81.7,2.74),
(82.1,3.17),(82.5,3.34),(82.9,2.84),(83.3,2.72),(84.1,2.52),(84.3,3.67),(84.5,3.12),(84.9,3.02),(85.1,2.66),
(85.4,3.49),(85.8,3.39),(86.2,3.34),(86.2,3.22),(86.6,2.91),(87.4,2.76),(87.6,2.59),(88.2,3.11),(89.1,2.47),
(89.5,3.02),(89.9,3.26),(90.3,2.62),(90.7,3.32),(91.5,3.12),(91.5,2.96),(91.9,2.72),(92.3,3.61),(92.5,1.76),
(92.1,2.02),
(90.5,3.32),(90.9,3.06),(91.3,3.16),(91.7,2.96),(92.1,3.26),(92.5,2.77),(93.0,2.89),(93.4,3.61),(93.8,3.06),
(94.2,3.49),(94.2,2.76),(94.6,3.22),(95.0,2.82),(95.4,2.59),(95.8,2.99),(96.3,3.26),(96.7,2.86),(97.1,2.72),
(97.5,3.27),(97.9,3.12),(98.3,2.89),(98.7,2.79),(99.1,2.51),(99.5,2.69),(100.4,2.86),(100.8,3.22),(101.2,2.66),
(101.6,3.29),(102.0,2.47),(102.0,2.29),(102.4,3.19),(102.4,2.89),(102.8,2.72),(103.2,2.17),(103.2,1.82),
(103.7,3.12),(104.1,2.92),(104.5,3.62),(104.5,3.76),(104.9,3.39),(105.3,2.79),(105.7,2.99),(106.1,3.64),
(106.1,2.46),(106.1,2.31),(106.5,2.91),(106.9,2.79),(107.1,3.36),(107.1,1.81),(107.4,2.56),(107.8,2.94),
(108.2,1.67),(108.2,1.52),(108.6,3.14),(109.0,2.66),(109.4,2.79),(109.8,3.01),(110.2,3.52),(110.2,1.57),
(110.2,1.86),(110.7,2.24),(111.1,2.92),(111.1,1.74),(111.5,2.71),(111.9,3.27),(112.3,2.21),(112.7,3.37),
(112.7,2.62),(113.5,3.09),(114.4,3.16),(114.8,2.26),(115.2,3.39),(115.6,2.52),(116.0,3.59),(116.0,2.22),
(116.4,3.09),(116.8,2.47),(117.0,3.22),(117.2,1.99),(117.6,2.77),(118.5,2.89),(118.9,2.27),(119.1,3.62),
(119.3,3.27),(119.3,2.71),(120.1,2.19),(120.5,2.52),(120.9,3.06),(121.3,3.42),(121.3,2.41),(121.7,2.89),
(122.2,2.76),(122.6,2.71),(123.4,2.14),(123.8,2.54),(123.8,3.42),(124.2,3.09),(124.6,2.22),(125.0,3.49),
(125.9,2.32),(125.9,2.76),(126.3,2.39),(126.7,2.82),(127.3,1.71),(127.9,2.90),(128.1,3.72),(128.3,3.19),
(128.7,2.32),(129.2,3.39),(129.6,2.11),(130.0,1.84),(130.4,3.64),(130.4,2.77),(130.8,2.47),(131.2,2.94),
(131.6,1.96),(132.0,2.56),(132.5,3.41),(132.5,2.84),(132.9,2.32),(133.3,2.26),(133.5,1.77),(134.1,2.99),
(134.9,3.39),(134.9,2.12),(135.3,2.39),(135.7,2.89),(136.2,2.29),(136.6,2.76),(137.0,3.44),(137.0,2.51),
(137.4,1.96),(137.8,1.87),(138.2,2.17),(139.0,2.56),(139.4,2.92),(139.9,3.12),(140.7,3.06),(141.1,2.46),
(141.1,1.77),(141.5,2.06),(142.3,2.69),(142.7,2.96),(143.1,2.54),(143.9,1.72),(144.4,2.21),(144.8,3.02),
(145.2,1.84),(145.6,2.02),(146.0,2.46),(147.3,1.92),(148.1,2.29),(148.9,3.28),(148.9,2.26),(149.7,2.66),
(150.1,1.81),(150.6,1.49),(150.6,3.16),(150.9,2.96),(151.4,2.19),(151.8,2.51),(152.2,2.31),(152.2,2.09)]
grey_c_core_days = [37, 39, 41, 43, 45, 47, 49, 51, 53, 55, 57, 59, 61, 63, 65, 67, 69, 71, 73, 75, 77, 79,
                    81, 83, 85, 87, 89, 91, 93, 95, 97, 99, 111, 113, 115, 117, 119, 121, 123, 125, 127,
                    129, 131, 133, 135, 137, 139, 141, 143, 145, 147, 149, 151, 153]
grey_c_core_vals = [[2.75,2.90],[2.70,2.85],[2.65,2.95],[2.72,2.45],[2.60,2.80],[2.55,2.40],[2.65,2.50],
    [2.70,2.85],[2.72,2.50],[2.70,2.55],[2.62,2.80],[2.72,2.85],[2.70,2.78],[2.75,2.60],[2.80,2.65],
    [2.75,2.95],[2.70,2.90],[2.80,3.00],[2.85,3.05],[2.75,2.95],[2.85,3.10],[2.75,2.95],[2.80,3.05],
    [2.90,3.00],[2.85,3.10],[2.95,3.20],[2.90,3.30],[2.85,3.05],[2.95,3.15],[2.90,3.10],[2.95,2.80],
    [2.95,3.05],[2.30],[2.20,2.85],[3.25,2.10],[3.30,3.20],[3.15,3.35],[3.20,2.60],[3.30,3.10],
    [3.20,2.95],[3.05,2.65],[3.10,2.55],[2.70,3.20],[2.10,2.40],[2.00,2.55],[2.65,2.20],[2.70,2.05],
    [2.25,2.90],[2.10,2.35],[2.65,2.30],[2.10,2.45],[2.00,2.50],[2.60,2.85],[2.40,2.15]]
grey_c_extra_days = [32, 34, 36, 38, 40, 42, 44, 46, 48, 50, 52, 54, 56, 58, 60, 62, 64, 66, 68, 70, 72,
                     74, 76, 78, 80, 82, 84, 86, 88, 90, 92, 94, 96, 98, 100, 102, 104, 106, 108, 110,
                     112, 114, 116, 118, 120, 122, 124, 126, 128, 130, 132, 134, 136, 138, 140, 142, 144,
                     146, 148, 150, 152]
grey_c_extra_vals = [[2.45],[2.50,2.80],[2.55,2.75,2.25],[2.45,2.65,3.05],[2.55,2.75,2.30],[2.40,2.65,2.85],
    [2.45,2.70,2.95],[2.30,2.55,2.80],[2.45,2.60,3.00],[2.55,2.70,2.95],[2.60,2.85,2.40],[2.65,2.85,2.45],
    [2.60,2.75,3.05],[2.55,2.75,2.95],[2.65,2.80,3.05],[2.55,2.70,2.95],[2.60,2.75,2.90],[2.70,2.85,3.00],
    [2.65,2.75,3.05],[2.60,2.85,3.20],[2.70,2.95,3.15],[2.75,2.85,3.20],[2.65,2.80,3.00],[2.60,2.85,3.05],
    [2.75,2.95,3.20],[2.65,2.90,3.25],[2.80,2.95,3.20],[2.70,3.00,3.15],[2.85,3.05,3.40],[2.80,2.95,3.15],
    [2.90,3.05,3.30],[2.95,3.10,2.65],[2.70,3.05,3.15],[2.65,3.00,3.20],[2.75,3.10,2.50],[2.60,3.00,2.80],
    [2.70,3.20,2.85],[2.65,3.05,2.45],[2.85,3.25,2.40],[2.75,3.05,2.55],[2.95,3.10,2.40],[2.65,3.00,3.30],
    [2.75,3.30,2.35],[2.60,3.10,3.45],[2.85,3.20,3.35],[2.45,3.05,3.30],[2.70,3.25,3.40],[2.50,3.10,3.35],
    [2.60,3.00,3.30],[2.40,2.85,3.25],[2.20,2.65,3.00],[2.30,2.60,2.85],[2.15,2.45,2.95],[2.05,2.35,2.80],
    [2.20,2.50,2.85],[2.10,2.40,2.75],[2.30,2.55,2.05],[2.15,2.35,2.70],[2.05,2.55,2.85],[2.25,2.45,2.75],
    [2.05,2.65,2.95]]
blue_c = [(50.6,2.66),(58.4,2.36),(54.5,2.16),(56.6,2.12),(55.5,1.92),(60.7,1.87),(61.3,1.86),(72.3,1.95),
(69.7,3.10),(70.1,2.95),(66.4,2.81),(66.4,2.76),(70.3,2.77),(68.6,2.69),(76.1,2.67),(78.2,2.91),(82.7,3.07),
(86.1,2.82),(89.7,2.02),(90.1,1.96),(94.6,1.83),(102.0,1.93),(108.8,2.05),(109.4,2.02),(111.7,2.07),
(118.7,3.02),(117.6,2.95),(127.1,3.48),(127.5,3.34),(132.5,2.02),(134.1,2.06),(136.5,1.99),(139.4,2.09),
(148.0,2.07),(150.1,1.94),(152.0,1.94)]
red_c = [(31.7,3.04),(40.5,3.22),(40.5,3.19),(41.3,3.12),(42.6,3.13),(52.7,3.13),(52.7,3.09),(54.5,3.21),
(54.5,3.16),(55.5,3.41),(54.7,3.36),(57.5,3.37),(57.5,3.33),(59.4,3.06),(74.3,3.46),(73.3,3.22),(73.3,3.19),
(78.3,3.71),(78.3,3.67),(79.3,3.58),(81.2,3.28),(82.3,3.11),(89.3,2.89),(89.3,2.86),(88.3,2.52),(86.4,2.34),
(91.1,2.07),(94.2,2.62),(98.1,2.04),(99.1,1.93),(97.7,1.87),(101.2,1.99),(103.5,2.12),(103.9,2.06),
(104.3,1.99),(107.4,2.10),(108.2,2.16),(111.1,2.47),(111.1,2.43),(115.2,2.86),(115.2,2.81),(117.6,3.39),
(118.1,3.34),(125.5,3.15),(129.1,3.27),(139.0,2.15),(139.0,2.11),(139.9,2.07),(139.9,1.97),(145.1,2.62),
(149.3,2.41)]

# ---------------- texts ----------------
panel_tags = ['(a)', '(b)', '(c)']
legend_titles = ['N$_2$O 12-28km', 'N$_2$O 150-13 hPa', 'HF']
legend_years = ['1996-2018', '2002', '2019']
ylabels = ['Partial column [10$^{17}$ molec/cm$^{2}$]',
           'Partial column [10$^{17}$ molec/cm$^{2}$]',
           'Total Column [10$^{15}$ molec/cm$^{2}$]']
yticks_ab = [0, 2, 4, 6, 8]
yticks_c = [0, 1, 2, 3, 4]


def unzip(pts):
    return [p[0] for p in pts], [p[1] for p in pts]


def expand(days, vals):
    xs, ys = [], []
    for d, vs in zip(days, vals):
        for v in vs:
            xs.append(d)
            ys.append(v)
    return xs, ys


fig = plt.figure(figsize=(18.6, 40.94), dpi=100)
positions = [[0.0887, 0.70518, 0.8806, 0.29116],
             [0.0887, 0.37274, 0.8806, 0.29043],
             [0.0887, 0.03981, 0.8806, 0.29165]]
axes = [fig.add_axes(p) for p in positions]

MS = 14.5


def style(ax, ymax, yticks, yminor, tag, tag_y, title, ylabel):
    ax.set_xlim(XMIN, XMAX)
    ax.set_ylim(0, ymax)
    ax.xaxis.set_major_locator(FixedLocator(month_ticks))
    ax.xaxis.set_minor_locator(FixedLocator(minor_ticks))
    ax.yaxis.set_major_locator(FixedLocator(yticks))
    ax.yaxis.set_minor_locator(MultipleLocator(yminor))
    ax.tick_params(axis='both', which='both', direction='in', top=True, right=True,
                   labelbottom=False, labeltop=False, labelright=False, labelleft=False,
                   color='black')
    ax.tick_params(axis='x', which='major', length=16.5, width=2.9)
    ax.tick_params(axis='x', which='minor', length=9.4, width=2.9)
    ax.tick_params(axis='y', which='major', length=25, width=2.9)
    ax.tick_params(axis='y', which='minor', length=11, width=2.9)
    for sp in ax.spines.values():
        sp.set_linewidth(3.6)
        sp.set_zorder(10)
    # y tick labels (end labels nudged inward as in the original)
    ybase = ax.get_yaxis_transform()
    for i, t in enumerate(yticks):
        dy = 0
        if i == 0:
            dy = 14
        elif i == len(yticks) - 1:
            dy = -13
        tr = ybase + mtransforms.ScaledTranslation(-16 / 72, dy / 72, fig.dpi_scale_trans)
        ax.text(0, t, str(t), transform=tr, ha='right', va='center_baseline', fontsize=48,
                clip_on=False)
    # vortex period lines
    for xv in vortex_lines:
        ax.plot([xv, xv], [ymax, 0], color=RED, lw=5, dashes=(23.8, 23.0), zorder=8,
                solid_capstyle='butt', dash_capstyle='butt')
    base = ax.get_xaxis_transform()
    for t, name in zip(month_ticks, month_names):
        tr1 = base + mtransforms.ScaledTranslation(-12 / 72, -61.9 / 72, fig.dpi_scale_trans)
        ax.text(t, 0, '1', transform=tr1, ha='center', va='baseline', fontsize=48, clip_on=False)
        tr2 = base + mtransforms.ScaledTranslation(12.5 / 72, -43 / 72, fig.dpi_scale_trans)
        ax.text(t, 0, 'st', transform=tr2, ha='center', va='baseline', fontsize=20, clip_on=False)
        tr3 = base + mtransforms.ScaledTranslation(0, -103 / 72, fig.dpi_scale_trans)
        ax.text(t, 0, name, transform=tr3, ha='center', va='baseline', fontsize=48, clip_on=False)
    ax.text(0.092, tag_y, tag, transform=ax.transAxes, ha='center', va='center', fontsize=58)
    ys = [0.253, 0.197, 0.141, 0.085]
    cols = ['black', GREY, BLUE, RED]
    texts = [title] + legend_years
    for y, c, s in zip(ys, cols, texts):
        ax.text(0.936, y, s, transform=ax.transAxes, ha='right', va='baseline', fontsize=48, color=c)
    ax.text(-0.0641, 0.5, ylabel, transform=ax.transAxes, rotation=90, rotation_mode='anchor',
            ha='center', va='baseline', fontsize=48)


def scatter_group(ax, xs, ys, color, z):
    ax.plot(xs, ys, 'o', color=color, ms=MS, mew=0, zorder=z, clip_on=True)


# panel a
ax = axes[0]
scatter_group(ax, *unzip(grey_a), GREY, 2)
scatter_group(ax, *expand(grey_a_core_days, grey_a_core_vals), GREY, 2)
scatter_group(ax, *expand(grey_a_extra_days, grey_a_extra_vals), GREY, 2)
scatter_group(ax, *unzip(blue_a), BLUE, 4)
scatter_group(ax, *unzip(red_a), RED, 5)
style(ax, 8, yticks_ab, 0.5, panel_tags[0], 0.830, legend_titles[0], ylabels[0])

# panel b
ax = axes[1]
scatter_group(ax, *expand(grey_b_days, grey_b_vals), GREY, 2)
scatter_group(ax, *expand(grey_b2_days, grey_b2_vals), GREY, 2)
rx, ry = unzip(red_b)
ax.plot(rx, ry, '-', color=RED, lw=7, zorder=4, solid_joinstyle='miter')
bx, by = unzip(blue_b)
ax.plot(bx, by, '-', color=BLUE, lw=7, zorder=5, solid_joinstyle='miter')
style(ax, 8, yticks_ab, 0.5, panel_tags[1], 0.826, legend_titles[1], ylabels[1])

# panel c
ax = axes[2]
scatter_group(ax, *unzip(grey_c), GREY, 2)
scatter_group(ax, *expand(grey_c_core_days, grey_c_core_vals), GREY, 2)
scatter_group(ax, *expand(grey_c_extra_days, grey_c_extra_vals), GREY, 2)
scatter_group(ax, *unzip(blue_c), BLUE, 4)
scatter_group(ax, *unzip(red_c), RED, 5)
style(ax, 4, yticks_c, 0.1, panel_tags[2], 0.86, legend_titles[2], ylabels[2])

fig.savefig('out.png', dpi=100)
